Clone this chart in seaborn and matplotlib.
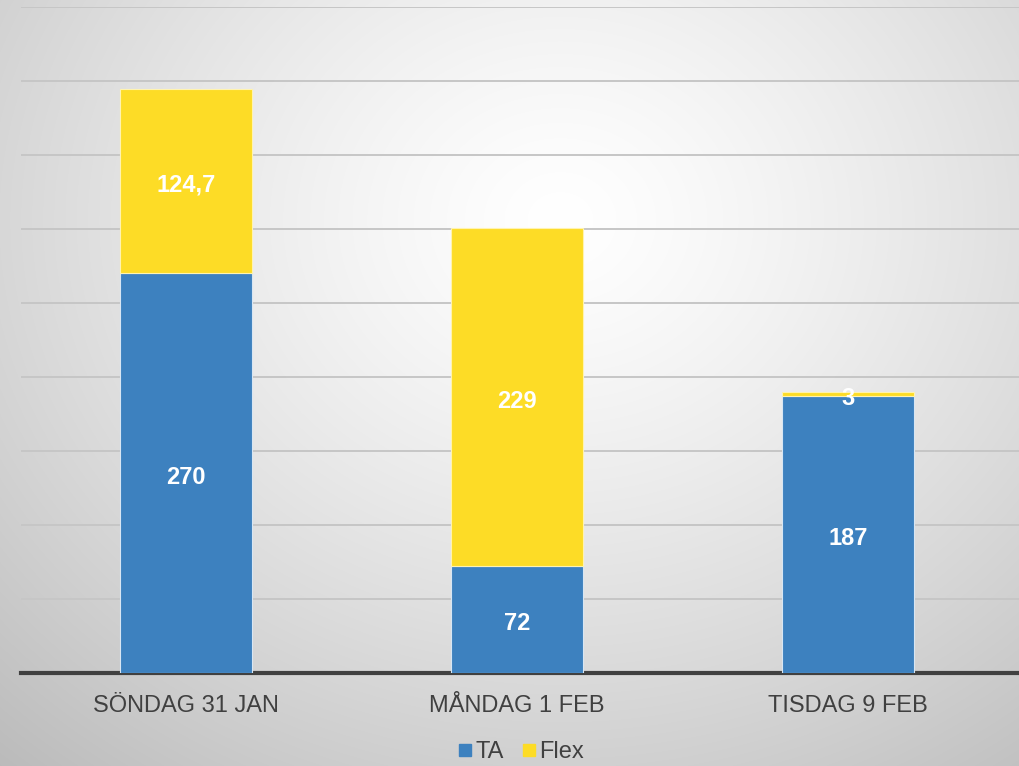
import numpy as np
import pandas as pd
import matplotlib
matplotlib.use("Agg")
import matplotlib.pyplot as plt
from matplotlib.lines import Line2D
import seaborn as sns

categories = ["SÖNDAG 31 JAN", "MÅNDAG 1 FEB", "TISDAG 9 FEB"]
ta_values = [270, 72, 187]
flex_values = [124.7, 229, 3]
series_names = ["TA", "Flex"]

BLUE = "#3D81BF"
YELLOW = "#FDDC26"

sns.set_theme(style="white")
plt.rcParams['font.family'] = ['Liberation Sans', 'DejaVu Sans']

W, H = 1019, 766
fig = plt.figure(figsize=(W / 100, H / 100), dpi=100)

# radial gradient background
bg = fig.add_axes([0, 0, 1, 1], zorder=-10)
yy, xx = np.mgrid[0:H, 0:W]
cx, cy = 560, 220
r = np.sqrt(((xx - cx) / 650) ** 2 + ((yy - cy) / 560) ** 2)
val = 1.0 - 0.19 * np.clip(r, 0, 1.3) ** 1.3
bg.imshow(np.dstack([val, val, val]), aspect="auto", extent=[0, 1, 0, 1], origin="upper")
bg.axis("off")

left = 20.5 / W
width = (W - 20.5) / W
bottom = 1 - 673 / H
top = 1 - 7 / H
ax = fig.add_axes([left, bottom, width, top - bottom])
ax.patch.set_alpha(0)

df = pd.DataFrame({"cat": categories, "TA": ta_values, "Flex": flex_values})
sns.barplot(data=df, x="cat", y="TA", color=BLUE, width=0.396, ax=ax,
            saturation=1, edgecolor="#d8e6f3", linewidth=0.8, zorder=3)
sns.barplot(data=df, x="cat", y="Flex", bottom=df["TA"], color=YELLOW, width=0.396, ax=ax,
            saturation=1, edgecolor="#fff3b0", linewidth=0.8, zorder=3)

def fmt(v):
    s = f"{v:g}"
    return s.replace(".", ",")

for cont, vals in zip(ax.containers, [ta_values, flex_values]):
    ax.bar_label(cont, labels=[fmt(v) for v in vals], label_type="center",
                 color="white", fontsize=17, fontweight="bold", zorder=5,
                 padding=-3)

ax.set_xlim(-0.5, 2.5 + 5.5 / 331)
ax.set_ylim(0, 450)
ax.set_yticks(np.arange(50, 451, 50))
ax.yaxis.grid(True, color="#c6c6c6", linewidth=1.4, zorder=0)
ax.set_axisbelow(True)
ax.tick_params(axis="y", left=False, labelleft=False)
ax.tick_params(axis="x", bottom=False, labelsize=17, labelcolor="#404040", pad=10)
ax.set_xlabel("")
ax.set_ylabel("")
for s in ["top", "right", "left"]:
    ax.spines[s].set_visible(False)
ax.spines["bottom"].set_color("#404040")
ax.spines["bottom"].set_linewidth(3)

handles = [Line2D([], [], marker="s", linestyle="", color=BLUE, markersize=8),
           Line2D([], [], marker="s", linestyle="", color=YELLOW, markersize=8)]
fig.legend(handles, series_names, loc="center", bbox_to_anchor=(0.506, 1 - 752 / H),
           ncol=2, frameon=False, fontsize=17, handletextpad=-0.3, columnspacing=0.3,
           handlelength=1.5, labelcolor="#404040")

fig.savefig("out.png", dpi=100)
